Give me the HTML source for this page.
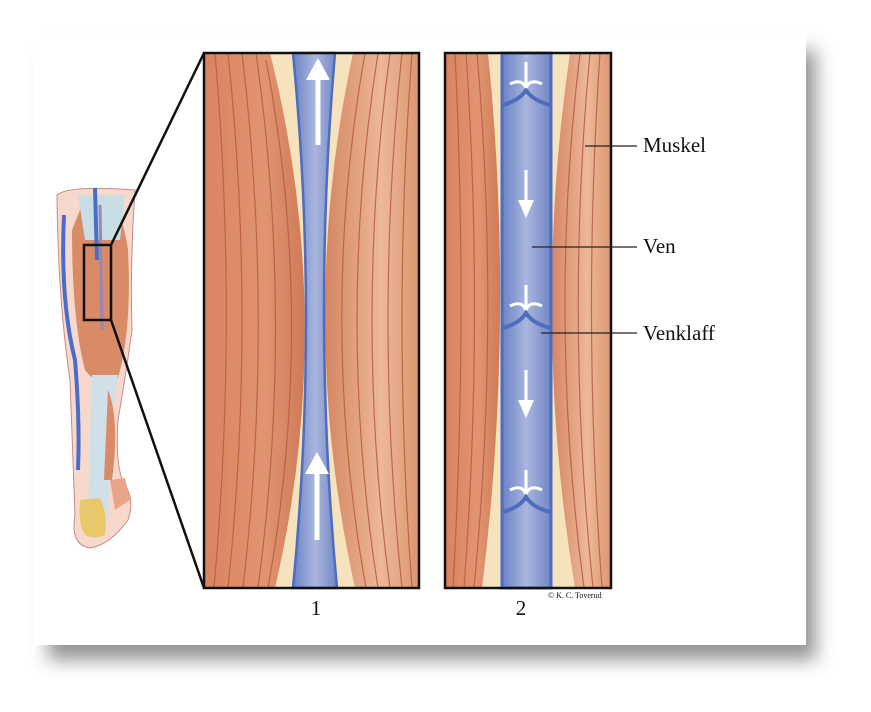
<!DOCTYPE html>
<html><head><meta charset="utf-8"><style>
html,body{margin:0;padding:0;background:#fff;}
svg{display:block}
text{font-family:"Liberation Serif",serif;fill:#111}
</style></head><body>
<svg width="871" height="712" viewBox="0 0 871 712" xmlns="http://www.w3.org/2000/svg">
<defs>
<filter id="sh" x="-10%" y="-10%" width="130%" height="130%"><feGaussianBlur stdDeviation="9"/></filter>
<linearGradient id="mL" x1="0" x2="1"><stop offset="0" stop-color="#d98460"/><stop offset="0.6" stop-color="#e09570"/><stop offset="1" stop-color="#d07a58"/></linearGradient>
<linearGradient id="mR" x1="0" x2="1"><stop offset="0" stop-color="#d68662"/><stop offset="0.6" stop-color="#ecb898"/><stop offset="1" stop-color="#dc9670"/></linearGradient>
<linearGradient id="vn" x1="0" x2="1"><stop offset="0" stop-color="#6a82c4"/><stop offset="0.5" stop-color="#aab6de"/><stop offset="1" stop-color="#7186c6"/></linearGradient>
</defs>
<rect x="48" y="50" width="768" height="610" fill="#888" filter="url(#sh)" opacity="0.9"/>
<rect x="33" y="33" width="773" height="612" fill="#fff"/>

<!-- Panel 1 -->
<g>
<rect x="204" y="53" width="215" height="535" fill="#f6e3bd"/>
<path d="M204 53 L270 53 Q337 320 275 588 L204 588Z" fill="url(#mL)"/>
<path d="M353 53 Q296 320 355 588 L419 588 L419 53Z" fill="url(#mR)"/>
<g stroke="#b85a48" stroke-width="1.2" fill="none" opacity="0.85">
<path d="M215 53 Q238 320 214 588"/><path d="M228 53 Q256 320 228 588"/><path d="M242 53 Q274 320 243 588"/><path d="M256 53 Q294 320 258 588"/><path d="M266 60 Q316 320 268 588"/>
<path d="M365 53 Q318 320 366 588"/><path d="M378 53 Q336 320 378 588"/><path d="M390 53 Q354 320 390 588"/><path d="M402 53 Q374 320 402 588"/><path d="M412 53 Q392 320 412 588"/>
</g>
<path d="M293 53 L335 53 Q312 320 337 588 L293 588 Q319 320 293 53Z" fill="url(#vn)" stroke="#4f6dbd" stroke-width="2.5"/>
<path d="M318 145 L318 80" stroke="#fff" stroke-width="5"/>
<path d="M306 80 L318 58 L330 80Z" fill="#fff"/>
<path d="M317 540 L317 474" stroke="#fff" stroke-width="5"/>
<path d="M305 474 L317 452 L329 474Z" fill="#fff"/>
</g>
<rect x="204" y="53" width="215" height="535" fill="none" stroke="#111" stroke-width="2.5"/>

<!-- Panel 2 -->
<g>
<rect x="445" y="53" width="166" height="535" fill="#f6e3bd"/>
<path d="M445 53 L488 53 Q515 320 482 588 L445 588Z" fill="url(#mL)"/>
<path d="M570 53 Q531 320 575 588 L611 588 L611 53Z" fill="url(#mR)"/>
<g stroke="#b85a48" stroke-width="1.2" fill="none" opacity="0.85">
<path d="M455 53 Q468 320 453 588"/><path d="M466 53 Q484 320 464 588"/><path d="M477 53 Q500 320 474 588"/>
<path d="M580 53 Q548 320 584 588"/><path d="M590 53 Q565 320 593 588"/><path d="M600 53 Q582 320 602 588"/>
</g>
<rect x="502" y="53" width="49" height="535" fill="url(#vn)" stroke="#4f6dbd" stroke-width="3"/>
<g fill="none" stroke="#4f6dbd" stroke-width="4">
<path d="M503 105 Q520 100 526 90 Q532 100 550 105"/>
<path d="M503 328 Q520 323 526 313 Q532 323 550 328"/>
<path d="M503 512 Q520 507 526 497 Q532 507 550 512"/>
</g>
<g stroke="#fff" stroke-width="3" fill="none">
<path d="M526 62 L526 88 M526 88 Q522 78 510 84 M526 88 Q530 78 542 84"/>
<path d="M526 285 L526 310 M526 310 Q522 300 510 306 M526 310 Q530 300 542 306"/>
<path d="M526 470 L526 494 M526 494 Q522 484 510 490 M526 494 Q530 484 542 490"/>
<path d="M526 170 L526 200"/><path d="M526 370 L526 400"/>
</g>
<path d="M518 200 L526 218 L534 200Z" fill="#fff"/>
<path d="M518 400 L526 418 L534 400Z" fill="#fff"/>
</g>
<rect x="445" y="53" width="166" height="535" fill="none" stroke="#111" stroke-width="2.5"/>

<!-- leg -->
<g>
<path d="M57 195 Q68 185 135 190 Q130 260 132 330 Q125 380 118 420 Q115 470 125 485 Q135 500 128 520 Q110 545 90 548 Q70 545 75 515 Q72 440 70 380 Q58 300 57 195Z" fill="#f6d9cc" stroke="#c88a8a" stroke-width="1"/>
<path d="M72 230 Q72 320 85 370 Q100 390 118 378 Q132 330 128 250 Q122 210 110 205 L82 205Z" fill="#d98a66"/>
<path d="M78 195 L125 195 L120 240 L85 240Z" fill="#c9dde4"/>
<path d="M92 375 L118 375 Q110 430 108 520 L88 520 Q90 440 92 375Z" fill="#cfe0e8"/>
<path d="M108 390 Q120 420 112 480 L104 480Z" fill="#d98a66"/>
<path d="M80 500 Q78 525 85 535 Q95 540 105 535 Q108 515 100 498Z" fill="#e8c86a"/>
<path d="M110 480 L125 478 L130 500 L115 510Z" fill="#e8a58a"/>
<path d="M64 215 Q60 300 75 360 Q80 420 78 470" stroke="#4a6ec8" stroke-width="4" fill="none"/>
<path d="M95 188 L97 260" stroke="#4a6ec8" stroke-width="4"/>
<path d="M100 205 L102 330" stroke="#9a86b0" stroke-width="3"/>
</g>
<rect x="84" y="245" width="27" height="75" fill="none" stroke="#111" stroke-width="2.5"/>
<line x1="111" y1="245" x2="204" y2="53" stroke="#111" stroke-width="2.5"/>
<line x1="111" y1="320" x2="204" y2="588" stroke="#111" stroke-width="2.5"/>

<!-- labels -->
<line x1="585" y1="146" x2="637" y2="146" stroke="#222" stroke-width="1.3"/>
<line x1="532" y1="247" x2="637" y2="247" stroke="#222" stroke-width="1.3"/>
<line x1="541" y1="333" x2="637" y2="333" stroke="#222" stroke-width="1.3"/>
<text x="643" y="152" font-size="21">Muskel</text>
<text x="643" y="253" font-size="21">Ven</text>
<text x="643" y="340" font-size="21">Venklaff</text>
<text x="316" y="615" font-size="21" text-anchor="middle">1</text>
<text x="521" y="615" font-size="21" text-anchor="middle">2</text>
<text x="548" y="598" font-size="8">© K. C. Toverud</text>
</svg>
</body></html>
